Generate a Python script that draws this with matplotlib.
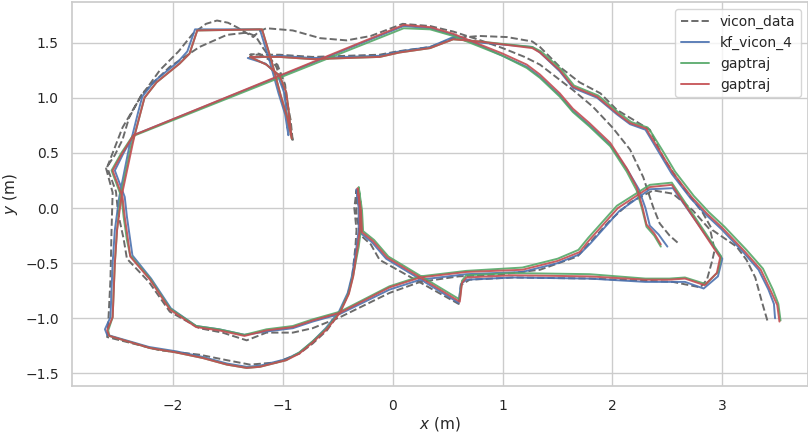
import matplotlib
matplotlib.use('Agg')
import matplotlib.pyplot as plt
import seaborn as sns

# trajectory points (x, y in metres)
vicon_data = [
    (3.41, -1.02), (3.36, -0.85), (3.30, -0.63), (3.22, -0.47), (3.13, -0.35), (2.91, -0.20), (2.82, -0.04),
    (2.64, 0.19), (2.46, 0.46), (2.34, 0.71), (2.19, 0.80), (2.04, 0.89), (1.89, 1.04), (1.70, 1.14),
    (1.52, 1.28), (1.34, 1.46), (1.27, 1.51), (1.04, 1.55), (0.79, 1.56), (0.55, 1.54), (0.34, 1.46),
    (0.04, 1.42), (-0.12, 1.39), (-0.73, 1.37), (-1.03, 1.39), (-1.30, 1.39),
    (-1.22, 1.40), (-1.05, 1.30), (-0.98, 1.12), (-0.96, 0.93), (-0.91, 0.60),
    (-0.93, 0.80), (-0.98, 1.05), (-1.06, 1.28), (-1.18, 1.45), (-1.25, 1.56), (-1.33, 1.59), (-1.51, 1.57),
    (-1.76, 1.46), (-2.03, 1.28), (-2.28, 1.04), (-2.40, 0.82), (-2.46, 0.62), (-2.53, 0.48), (-2.61, 0.36),
    (-2.55, 0.14), (-2.56, -0.20), (-2.57, -0.65), (-2.59, -1.04), (-2.60, -1.17),
    (-2.12, -1.29), (-1.76, -1.33), (-1.51, -1.38), (-1.30, -1.42), (-1.06, -1.40), (-0.85, -1.32),
    (-0.73, -1.23), (-0.60, -1.11), (-0.49, -0.96), (-0.41, -0.79), (-0.37, -0.63), (-0.34, -0.35),
    (-0.33, -0.20), (-0.35, 0.00), (-0.33, 0.16),
    (-0.33, -0.05), (-0.30, -0.24), (-0.20, -0.33), (-0.12, -0.47), (0.24, -0.67), (0.60, -0.87),
    (0.62, -0.70), (0.70, -0.65), (1.10, -0.63), (1.80, -0.64), (2.55, -0.67), (2.80, -0.72), (2.86, -0.65),
    (2.91, -0.47), (2.93, -0.38), (2.89, -0.20), (2.73, -0.02), (2.55, 0.13), (2.37, 0.16), (2.16, 0.05),
    (1.98, -0.11), (1.68, -0.44), (1.34, -0.56), (1.00, -0.60), (0.60, -0.62), (0.25, -0.67), (-0.03, -0.77),
    (-0.48, -0.99), (-0.73, -1.09), (-0.91, -1.13), (-1.15, -1.13), (-1.33, -1.20), (-1.55, -1.13),
    (-1.76, -1.09), (-2.03, -0.94), (-2.22, -0.67), (-2.42, -0.46), (-2.45, -0.28), (-2.50, -0.05),
    (-2.52, 0.15), (-2.60, 0.37),
    (-2.46, 0.73), (-2.30, 1.00), (-2.12, 1.25), (-1.95, 1.42), (-1.82, 1.58), (-1.70, 1.67), (-1.60, 1.70),
    (-1.50, 1.68), (-1.42, 1.64), (-1.27, 1.55), (-1.22, 1.60), (-1.15, 1.63), (-0.91, 1.61), (-0.66, 1.54),
    (-0.42, 1.52), (-0.20, 1.56), (0.09, 1.67),
    (0.34, 1.65), (0.55, 1.60), (0.80, 1.52), (1.00, 1.45), (1.20, 1.37), (1.34, 1.30), (1.64, 1.07),
    (1.82, 0.92), (2.00, 0.73), (2.16, 0.53), (2.28, 0.28), (2.37, 0.01), (2.43, -0.14), (2.52, -0.25),
    (2.60, -0.32),
]

kf_vicon_4 = [
    (3.48, -1.00), (3.47, -0.87), (3.42, -0.74), (3.33, -0.56), (3.19, -0.40), (2.99, -0.19), (2.85, -0.06),
    (2.71, 0.09), (2.54, 0.31), (2.42, 0.51), (2.33, 0.66), (2.30, 0.71), (2.16, 0.76), (2.04, 0.85),
    (1.86, 1.00), (1.64, 1.09), (1.52, 1.24), (1.34, 1.41), (1.27, 1.46), (0.79, 1.50), (0.55, 1.55),
    (0.34, 1.46), (0.06, 1.42), (-0.12, 1.38), (-0.73, 1.36), (-1.03, 1.38), (-1.32, 1.36),
    (-1.16, 1.31), (-1.05, 1.21), (-0.99, 1.05), (-0.97, 0.90), (-0.95, 0.66),
    (-0.98, 0.85), (-1.04, 1.04), (-1.12, 1.33), (-1.21, 1.62),
    (-1.80, 1.62), (-1.87, 1.42), (-1.96, 1.32), (-2.17, 1.15), (-2.28, 1.01), (-2.32, 0.86), (-2.37, 0.66),
    (-2.40, 0.55), (-2.49, 0.10), (-2.53, -0.20), (-2.55, -0.50), (-2.57, -0.99), (-2.62, -1.10),
    (-2.60, -1.15),
    (-2.22, -1.26), (-1.97, -1.30), (-1.73, -1.35), (-1.51, -1.41), (-1.33, -1.44), (-1.21, -1.43),
    (-0.97, -1.37), (-0.85, -1.31), (-0.73, -1.21), (-0.61, -1.09), (-0.49, -0.94), (-0.41, -0.77),
    (-0.37, -0.61), (-0.33, -0.35), (-0.31, -0.20), (-0.31, 0.00), (-0.33, 0.17),
    (-0.30, -0.03), (-0.29, -0.23), (-0.19, -0.31), (-0.06, -0.46), (0.24, -0.64), (0.60, -0.86),
    (0.62, -0.69), (0.67, -0.65), (1.09, -0.63), (1.79, -0.64), (2.30, -0.67), (2.52, -0.67), (2.66, -0.67),
    (2.83, -0.73), (2.96, -0.62), (3.00, -0.46), (2.55, 0.18), (2.34, 0.17), (2.06, -0.03), (1.80, -0.32),
    (1.70, -0.42), (1.50, -0.50), (1.18, -0.58), (0.67, -0.60), (0.25, -0.65), (-0.03, -0.74),
    (-0.48, -0.96), (-0.73, -1.03), (-0.91, -1.09), (-1.15, -1.12), (-1.35, -1.15), (-1.58, -1.10),
    (-1.79, -1.07), (-2.02, -0.91), (-2.20, -0.64), (-2.37, -0.43), (-2.39, -0.29), (-2.42, -0.08),
    (-2.44, 0.10), (-2.53, 0.34), (-2.45, 0.50), (-2.36, 0.66),
    (0.10, 1.65), (0.34, 1.63), (0.55, 1.57), (0.80, 1.47), (1.00, 1.38), (1.22, 1.28), (1.34, 1.19),
    (1.52, 1.02), (1.64, 0.88), (1.79, 0.75), (1.98, 0.57), (2.14, 0.34), (2.24, 0.17), (2.30, 0.00),
    (2.34, -0.16), (2.42, -0.24), (2.50, -0.35),
]

gaptraj_a = [
    (3.53, -1.02), (3.51, -0.87), (3.46, -0.74), (3.37, -0.55), (3.22, -0.38), (3.02, -0.17), (2.88, -0.04),
    (2.74, 0.11), (2.57, 0.33), (2.45, 0.53), (2.35, 0.69), (2.32, 0.73), (2.17, 0.78), (2.05, 0.87),
    (1.87, 1.02), (1.65, 1.11), (1.53, 1.26), (1.35, 1.42), (1.27, 1.46), (0.79, 1.51), (0.55, 1.53),
    (0.34, 1.45), (0.06, 1.41), (-0.12, 1.37), (-0.73, 1.35), (-1.03, 1.37), (-1.30, 1.37),
    (-1.15, 1.30), (-1.03, 1.20), (-0.97, 1.05), (-0.95, 0.90), (-0.92, 0.63),
    (-0.96, 0.82), (-1.02, 1.02), (-1.10, 1.32), (-1.19, 1.62),
    (-1.78, 1.61), (-1.85, 1.40), (-1.94, 1.31), (-2.15, 1.14), (-2.26, 1.00), (-2.30, 0.85), (-2.35, 0.66),
    (-2.38, 0.57), (-2.48, 0.10), (-2.51, -0.20), (-2.53, -0.50), (-2.55, -0.99), (-2.59, -1.11),
    (-2.58, -1.16),
    (-2.21, -1.27), (-1.97, -1.31), (-1.73, -1.36), (-1.51, -1.42), (-1.33, -1.45), (-1.21, -1.44),
    (-0.97, -1.38), (-0.85, -1.31), (-0.73, -1.21), (-0.60, -1.09), (-0.48, -0.94), (-0.40, -0.77),
    (-0.36, -0.61), (-0.31, -0.35), (-0.29, -0.20), (-0.29, 0.00), (-0.31, 0.19),
    (-0.28, -0.02), (-0.27, -0.21), (-0.17, -0.29), (-0.04, -0.44), (0.26, -0.62), (0.61, -0.83),
    (0.63, -0.66), (0.67, -0.61), (1.09, -0.59), (1.79, -0.60), (2.30, -0.64), (2.52, -0.64), (2.66, -0.63),
    (2.85, -0.69), (2.96, -0.58), (2.99, -0.44), (2.54, 0.23), (2.34, 0.21), (2.04, 0.02), (1.78, -0.27),
    (1.69, -0.38), (1.50, -0.46), (1.18, -0.54), (0.67, -0.57), (0.25, -0.62), (-0.03, -0.71),
    (-0.48, -0.94), (-0.73, -1.01), (-0.91, -1.07), (-1.15, -1.10), (-1.35, -1.15), (-1.58, -1.10),
    (-1.79, -1.07), (-2.03, -0.91), (-2.21, -0.64), (-2.39, -0.43), (-2.42, -0.29), (-2.45, -0.08),
    (-2.47, 0.10), (-2.56, 0.34), (-2.47, 0.50), (-2.37, 0.65),
    (0.10, 1.63), (0.34, 1.62), (0.55, 1.56), (0.80, 1.46), (1.00, 1.38), (1.22, 1.27), (1.34, 1.18),
    (1.52, 1.01), (1.64, 0.87), (1.79, 0.74), (1.98, 0.56), (2.13, 0.33), (2.22, 0.16), (2.27, -0.01),
    (2.31, -0.17), (2.38, -0.25), (2.44, -0.35),
]

gaptraj_b = [
    (3.52, -1.03), (3.50, -0.88), (3.44, -0.75), (3.35, -0.56), (3.20, -0.39), (3.00, -0.18), (2.86, -0.05),
    (2.72, 0.10), (2.55, 0.32), (2.43, 0.52), (2.33, 0.68), (2.31, 0.72), (2.16, 0.77), (2.04, 0.86),
    (1.86, 1.01), (1.64, 1.10), (1.52, 1.25), (1.34, 1.41), (1.27, 1.45), (0.79, 1.51), (0.55, 1.53),
    (0.34, 1.45), (0.06, 1.41), (-0.12, 1.37), (-0.73, 1.35), (-1.03, 1.37), (-1.30, 1.37),
    (-1.15, 1.30), (-1.03, 1.20), (-0.97, 1.05), (-0.95, 0.90), (-0.92, 0.63),
    (-0.96, 0.82), (-1.02, 1.02), (-1.10, 1.32), (-1.19, 1.62),
    (-1.78, 1.61), (-1.85, 1.40), (-1.94, 1.31), (-2.15, 1.14), (-2.26, 1.00), (-2.30, 0.85), (-2.35, 0.66),
    (-2.37, 0.57), (-2.47, 0.10), (-2.51, -0.20), (-2.53, -0.50), (-2.55, -0.99), (-2.60, -1.11),
    (-2.58, -1.16),
    (-2.21, -1.27), (-1.97, -1.31), (-1.73, -1.36), (-1.51, -1.42), (-1.33, -1.45), (-1.21, -1.44),
    (-0.97, -1.38), (-0.85, -1.32), (-0.73, -1.22), (-0.60, -1.10), (-0.48, -0.95), (-0.40, -0.78),
    (-0.36, -0.62), (-0.32, -0.35), (-0.30, -0.20), (-0.30, 0.00), (-0.32, 0.18),
    (-0.29, -0.02), (-0.28, -0.22), (-0.18, -0.30), (-0.05, -0.45), (0.25, -0.63), (0.61, -0.85),
    (0.63, -0.68), (0.67, -0.63), (1.09, -0.61), (1.79, -0.62), (2.30, -0.65), (2.52, -0.65), (2.66, -0.64),
    (2.84, -0.70), (2.95, -0.59), (2.98, -0.45), (2.54, 0.21), (2.34, 0.19), (2.05, 0.00), (1.79, -0.29),
    (1.70, -0.40), (1.50, -0.48), (1.18, -0.56), (0.67, -0.58), (0.25, -0.63), (-0.03, -0.72),
    (-0.48, -0.95), (-0.73, -1.02), (-0.91, -1.08), (-1.15, -1.11), (-1.35, -1.16), (-1.58, -1.11),
    (-1.79, -1.08), (-2.03, -0.92), (-2.21, -0.65), (-2.39, -0.44), (-2.41, -0.29), (-2.44, -0.08),
    (-2.46, 0.10), (-2.55, 0.34), (-2.46, 0.50), (-2.36, 0.66),
    (0.10, 1.66), (0.34, 1.64), (0.55, 1.58), (0.80, 1.48), (1.00, 1.40), (1.22, 1.30), (1.34, 1.21),
    (1.52, 1.04), (1.64, 0.90), (1.79, 0.77), (1.98, 0.59), (2.13, 0.36), (2.22, 0.19), (2.27, 0.02),
    (2.31, -0.15), (2.38, -0.23), (2.44, -0.33),
]

series_labels = ['vicon_data', 'kf_vicon_4', 'gaptraj', 'gaptraj']

sns.set_theme(style='whitegrid')

fig = plt.figure(figsize=(8.08, 4.33), dpi=100)
ax = fig.add_axes([72 / 808, 47 / 433, 736 / 808, 384 / 433])

vx, vy = zip(*vicon_data)
ax.plot(vx, vy, '--', color='0.42', lw=1.4, label=series_labels[0])
for pts, col, lab in [(kf_vicon_4, '#4C72B0', series_labels[1]),
                      (gaptraj_a, '#55A868', series_labels[2]),
                      (gaptraj_b, '#C44E52', series_labels[3])]:
    px, py = zip(*pts)
    ax.plot(px, py, color=col, lw=1.4, alpha=0.9, label=lab)

ax.set_xlim(-2.92, 3.78)
ax.set_ylim(-1.614, 1.868)
ax.set_xticks([-2, -1, 0, 1, 2, 3])
ax.set_yticks([-1.5, -1.0, -0.5, 0.0, 0.5, 1.0, 1.5])
ax.tick_params(labelsize=10)
ax.set_xlabel('$x$ (m)', fontsize=11, labelpad=1)
ax.set_ylabel('$y$ (m)', fontsize=11)
ax.legend(loc='upper right', fontsize=10)

fig.savefig('out.png', dpi=100)
